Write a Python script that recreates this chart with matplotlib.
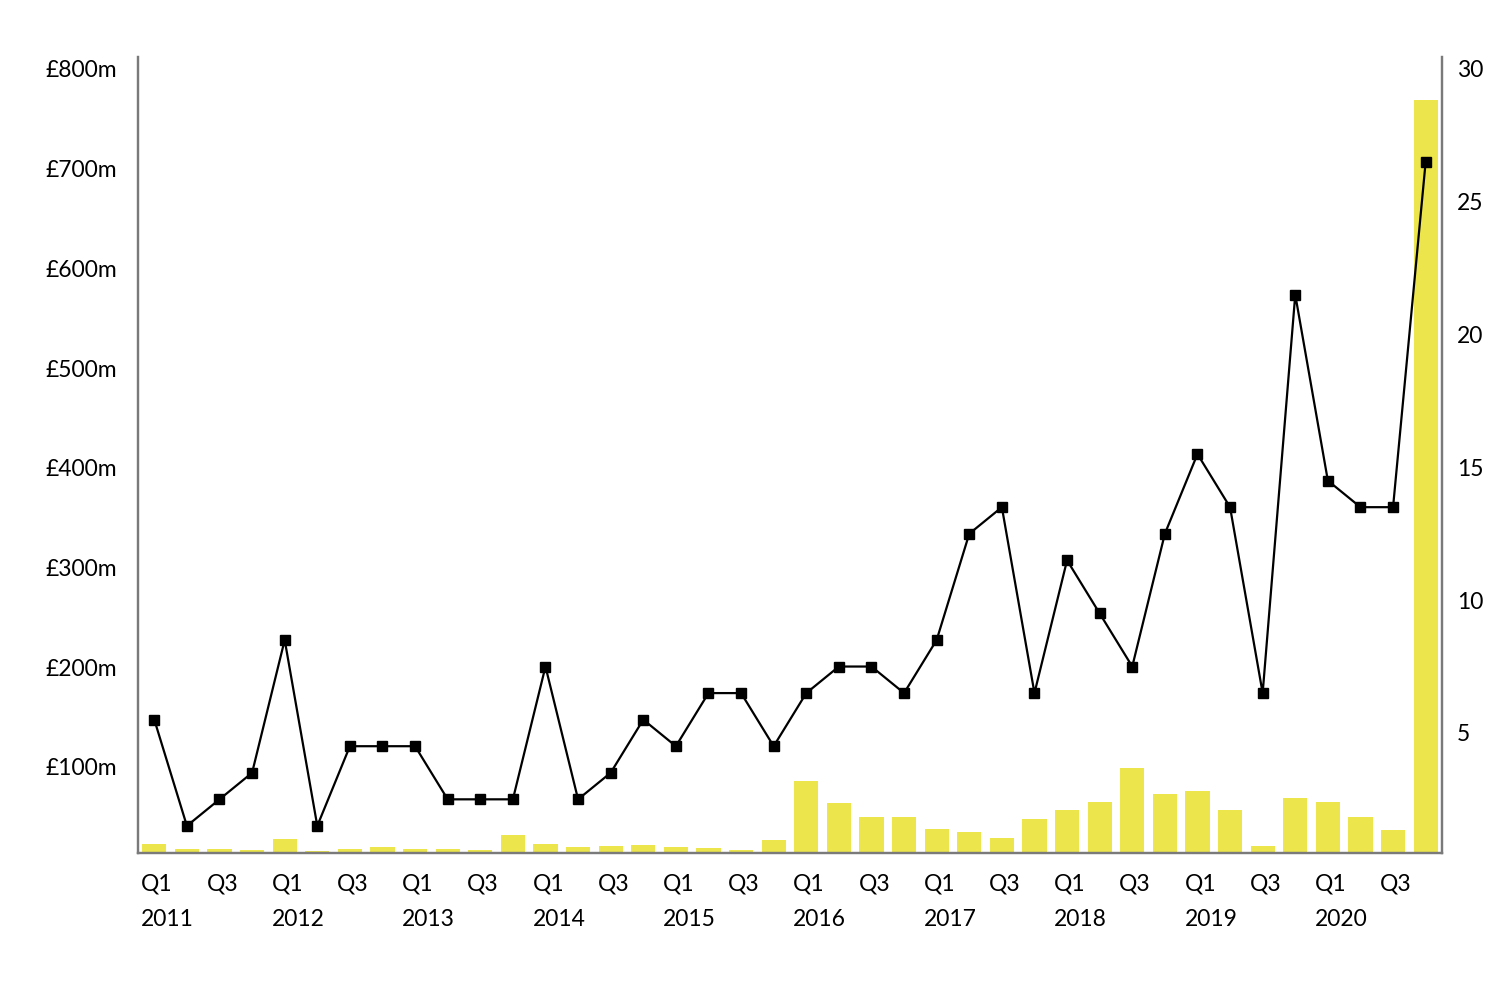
import matplotlib
matplotlib.use("Agg")
import matplotlib.pyplot as plt
from matplotlib.transforms import ScaledTranslation
import numpy as np

plt.rcParams['font.family'] = ['Lato', 'DejaVu Sans']

years = [str(y) for y in range(2011, 2021)]
quarters = ["Q1", "Q2", "Q3", "Q4"]

# Value (GBP m), bars, left axis
value_m = [22.7, 17.7, 17.7, 16.2,
           27.7, 15.7, 17.7, 19.7,
           17.7, 17.7, 16.2, 31.8,
           23.2, 19.7, 20.7, 21.7,
           19.7, 18.7, 16.7, 26.7,
           86.0, 63.5, 50.1, 49.4,
           37.4, 34.8, 29.1, 47.8,
           57.1, 65.2, 99.0, 73.2,
           75.5, 56.4, 21.0, 68.9,
           65.2, 50.1, 37.1, 769.0]

# Count (right axis), line
count = [5.5, 1.5, 2.5, 3.5,
         8.5, 1.5, 4.5, 4.5,
         4.5, 2.5, 2.5, 2.5,
         7.5, 2.5, 3.5, 5.5,
         4.5, 6.5, 6.5, 4.5,
         6.5, 7.5, 7.5, 6.5,
         8.5, 12.5, 13.5, 6.5,
         11.5, 9.5, 7.5, 12.5,
         15.5, 13.5, 6.5, 21.5,
         14.5, 13.5, 13.5, 26.5]

left_ticks = [100, 200, 300, 400, 500, 600, 700, 800]
right_ticks = [5, 10, 15, 20, 25, 30]

labels = []
for y in years:
    for q in quarters:
        if q == "Q1":
            labels.append(f"Q1\n{y}")
        elif q == "Q3":
            labels.append("Q3")
        else:
            labels.append("")

fig = plt.figure(figsize=(15, 9.81), dpi=100)
ax = fig.add_axes([0.092, 0.1305, 0.8693, 0.8114])
x = np.arange(len(value_m))

ax.bar(x, value_m, width=0.74, color="#ECE54B", zorder=1)
ax.set_xlim(-0.5, len(x) - 0.5)
ax.set_ylim(13.7, 812)
ax.set_yticks(left_ticks)
ax.set_yticklabels([f"£{v}m" for v in left_ticks])

ax2 = ax.twinx()
ax2.plot(x, count, color="black", lw=1.6, marker="s", markersize=7.5, zorder=3)
ax2.set_ylim(0.48, 30.45)
ax2.set_yticks(right_ticks)
ax2.set_yticklabels([str(v) for v in right_ticks])

spine_c = "#7a7a7a"
fs = 16.5
for a in (ax, ax2):
    a.spines["top"].set_visible(False)
    for s in ("left", "right", "bottom"):
        a.spines[s].set_color(spine_c)
        a.spines[s].set_linewidth(1.6)
    a.tick_params(length=0, labelsize=fs, colors="black")

ax.tick_params(axis="y", pad=15)
ax2.tick_params(axis="y", pad=10.8)

ax.set_xticks(x)
ax.set_xticklabels(labels, linespacing=1.85)
ax.tick_params(axis="x", pad=15)
off = ScaledTranslation(-13 / 100, 0, fig.dpi_scale_trans)
for lbl in ax.get_xticklabels():
    lbl.set_horizontalalignment("left")
    lbl.set_multialignment("left")
    lbl.set_transform(lbl.get_transform() + off)

fig.savefig("out.png", dpi=100)
